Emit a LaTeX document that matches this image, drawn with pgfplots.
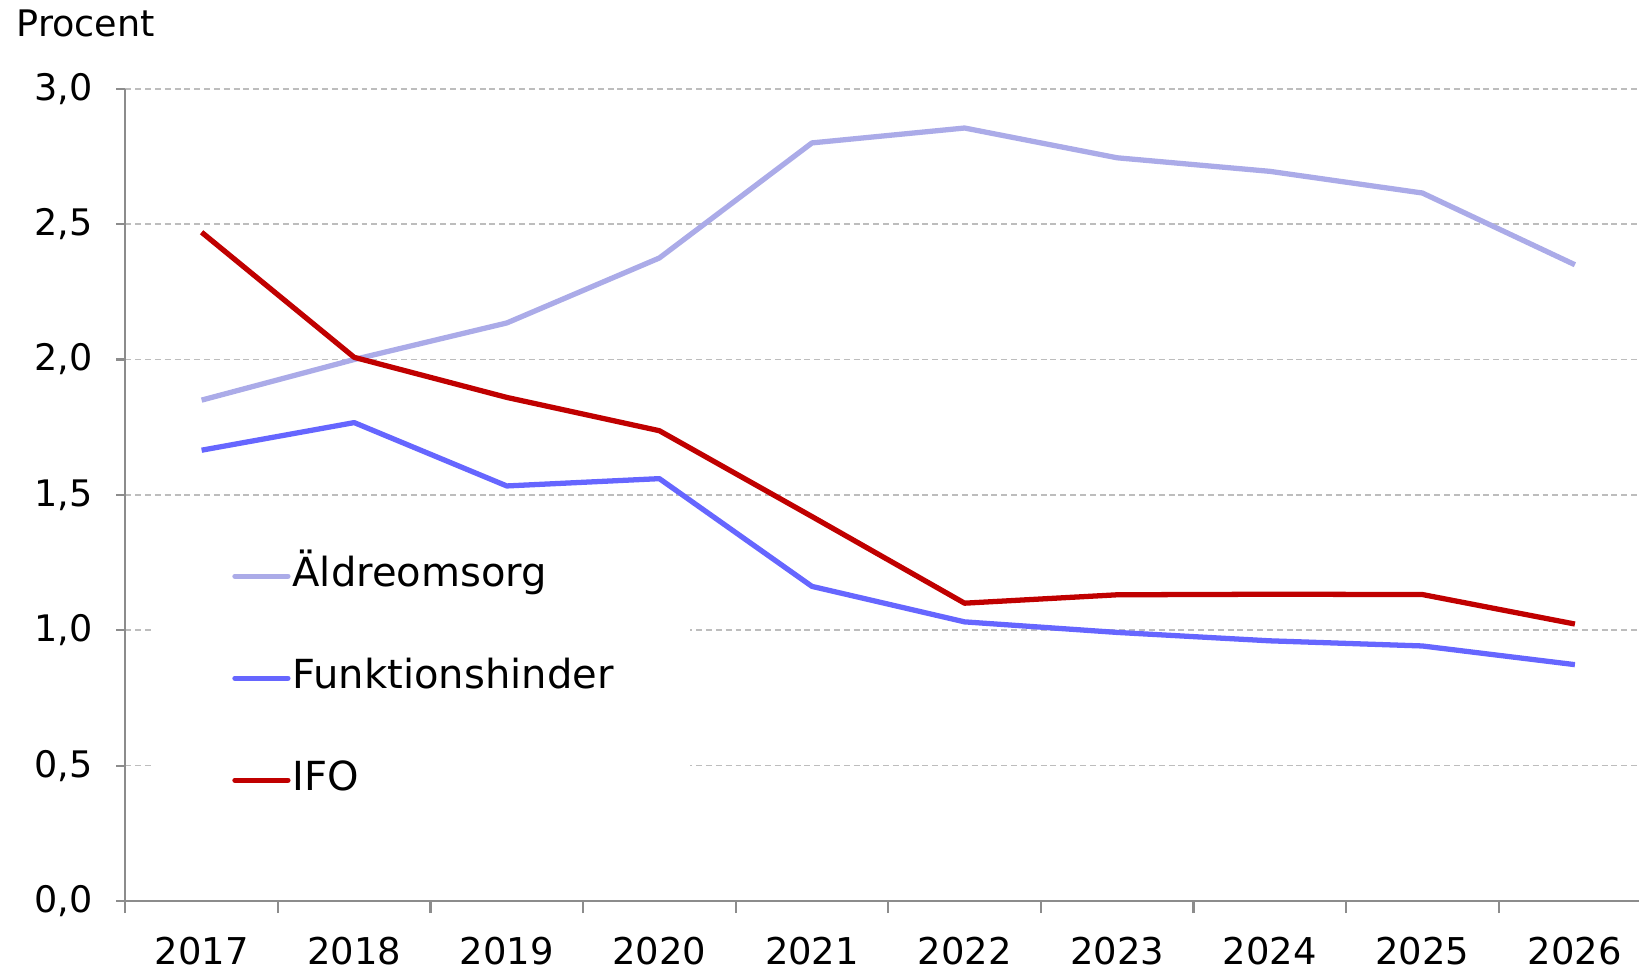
\documentclass[border=0pt]{standalone}
\usepackage{fontspec}
\setmainfont{DejaVu Sans}
\usepackage{pgfplots}
\pgfplotsset{compat=1.18}

\definecolor{aldre}{HTML}{ABABE8}
\definecolor{funk}{HTML}{6666FF}
\definecolor{ifo}{HTML}{C00000}
\definecolor{axgray}{HTML}{8C8C8C}
\definecolor{gridgray}{HTML}{BDBDBD}

\begin{document}
\begin{tikzpicture}
\begin{axis}[
  scale only axis,
  width=151.36mm, height=81.22mm,
  xmin=-0.5, xmax=9.42,
  ymin=0, ymax=3,
  axis x line*=bottom, axis y line*=left,
  axis line style={axgray, line width=0.6pt},
  xtick={0,...,9},
  xticklabels={2017,2018,2019,2020,2021,2022,2023,2024,2025,2026},
  major x tick style={draw=none},
  minor xtick={-0.5,0.5,...,8.5},
  minor tick length=1.2mm,
  every minor tick/.style={axgray, line width=0.6pt},
  ytick={0,0.5,...,3},
  major tick length=0.9mm,
  tick align=outside,
  tick style={axgray, line width=0.6pt},
  ymajorgrids=true,
  grid style={gridgray, line width=0.45pt, dash pattern=on 1.7pt off 1.1pt},
  /pgf/number format/assume math mode=true,
  yticklabel={\pgfmathprintnumber[fixed, fixed zerofill, precision=1, use comma]{\tick}},
  yticklabel style={font=\fontsize{10.4}{12}\selectfont, inner sep=0pt, anchor=east, xshift=-2.3mm},
  xticklabel style={font=\fontsize{10.5}{12}\selectfont, inner sep=0pt, anchor=north, yshift=-2.6mm},
  legend cell align=left,
  legend style={draw=none, fill=none, inner xsep=0pt, inner ysep=0pt,
    at={(rel axis cs:0.0702,0.2743)}, anchor=west,
    font=\fontsize{11.4}{13}\selectfont, row sep=5.6mm,
    nodes={text height=2.8mm, text depth=0.8mm, inner xsep=0.2mm, inner ysep=0.5mm}},
  legend image code/.code={\draw[#1, line cap=round] (0mm,0mm) -- (5.3mm,0mm);},
  every axis plot/.append style={line width=1.5pt, line join=round},
  clip=false,
]
\fill[white] (rel axis cs:0.0196,0.124) rectangle (rel axis cs:0.373,0.469);

\addplot[aldre] coordinates {(0,1.85)(1,2.00)(2,2.135)(3,2.375)(4,2.80)(5,2.855)(6,2.745)(7,2.695)(8,2.615)(9,2.35)};
\addplot[funk] coordinates {(0,1.665)(1,1.767)(2,1.533)(3,1.56)(4,1.162)(5,1.031)(6,0.992)(7,0.961)(8,0.942)(9,0.873)};
\addplot[ifo] coordinates {(0,2.47)(1,2.008)(2,1.86)(3,1.737)(4,1.42)(5,1.10)(6,1.131)(7,1.133)(8,1.132)(9,1.023)};
\legend{Äldreomsorg, Funktionshinder, IFO}

\node[anchor=base west, inner sep=0pt, font=\fontsize{10.4}{12}\selectfont]
  at (rel axis cs:-0.0723,1.0642) {Procent};
\coordinate (bl) at (rel axis cs:-0.0828,-0.085);
\coordinate (tr) at (rel axis cs:1,1.1093);
\end{axis}
\pgfresetboundingbox
\path[use as bounding box] (bl) rectangle (tr);
\end{tikzpicture}
\end{document}
